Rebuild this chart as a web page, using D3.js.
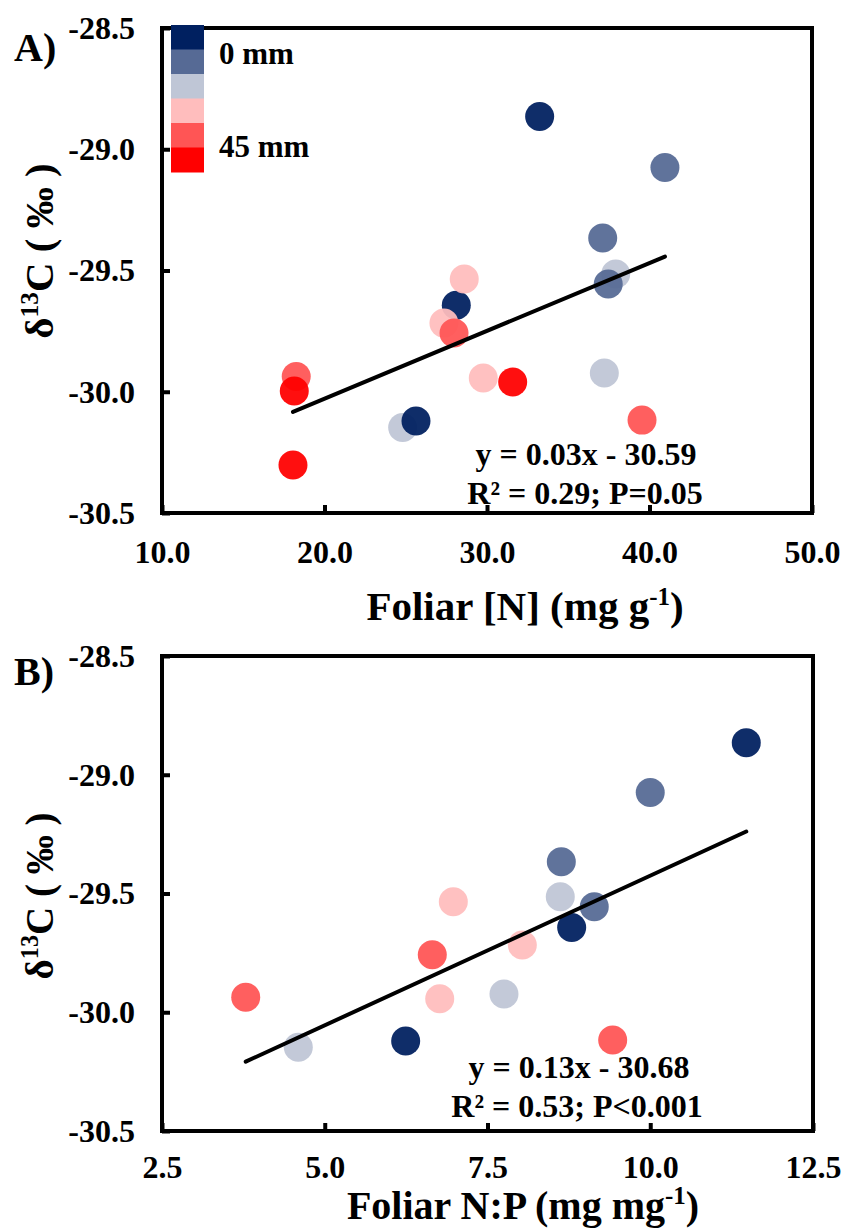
<!DOCTYPE html>
<html>
<head>
<meta charset="utf-8">
<script src="https://cdn.jsdelivr.net/npm/d3@7/dist/d3.min.js"></script>
<style>
  html, body { margin: 0; padding: 0; background: #fff; }
  svg { display: block; font-family: "Liberation Serif", "Times New Roman", serif; font-weight: bold; }
</style>
</head>
<body>
<svg id="chart" width="848" height="1231"></svg>
<script>
// ---------------- DATA ----------------
const legendLabels = ["0 mm", "", "", "", "", "45 mm"];
const groupColors = ["#002060", "#566A95", "#BFC6D6", "#FFBDBD", "#FF5555", "#FF0000"];
// group index of each sample (0 = 0 mm ... 5 = 45 mm)
const sampleGroup = [0, 1, 1, 2, 1, 3, 0, 3, 4, 2, 3, 5, 4, 0, 2, 4, 5, 5];
const d13C = [-28.865, -29.075, -29.366, -29.514, -29.556, -29.535, -29.643, -29.717, -29.758,
              -29.923, -29.943, -29.960, -30.117, -30.121, -30.147, -29.937, -29.997, -30.302];
const foliarN = [33.24, 40.95, 37.12, 37.92, 37.46, 28.60, 28.11, 27.35, 27.97,
                 37.22, 29.77, 31.58, 39.54, 25.63, 24.81, 18.26, 18.14, 18.06];
const foliarNP = [11.475, 10.00, 8.634, 8.618, 9.14, 6.975, 8.793, 8.035, 6.652,
                  7.753, 6.766, null, 9.423, 6.243, 4.594, 3.786, null, null];
// draw order of groups (later on top)
const drawOrder = [2, 1, 0, 3, 4, 5];

const yTicks = [-28.5, -29.0, -29.5, -30.0, -30.5];
const xTicksA = [10, 20, 30, 40, 50];
const xTicksB = [2.5, 5.0, 7.5, 10.0, 12.5];

const fitA = [0.028, -30.589];   // slope, intercept
const fitB = [0.126, -30.685];
const eqA = ["y = 0.03x - 30.59", "R² = 0.29; P=0.05"];
const eqB = ["y = 0.13x - 30.68", "R² = 0.53; P<0.001"];

// ---------------- DRAW ----------------
const svg = d3.select("#chart");
const fmt = d => d.toFixed(1);

function panel(opts) {
  const { xVals, fit, eq, xTicks, xDomain, xRange, yRange, label, labelY, xTitle, xTitleSup, xTitlePos, xTitleSize, xPad, yTitlePos, yTitleSize, eqPos, legend } = opts;
  const x = d3.scaleLinear().domain(xDomain).range(xRange);
  const y = d3.scaleLinear().domain([-30.5, -28.5]).range(yRange);
  const g = svg.append("g");

  const ya = g.append("g").attr("transform", `translate(${xRange[0]},0)`)
    .call(d3.axisLeft(y).tickValues(yTicks).tickFormat(fmt).tickSizeInner(-8).tickSizeOuter(0).tickPadding(27));
  const xa = g.append("g").attr("transform", `translate(0,${yRange[0]})`)
    .call(d3.axisBottom(x).tickValues(xTicks).tickFormat(fmt).tickSizeInner(-8).tickSizeOuter(0).tickPadding(xPad));
  [ya, xa].forEach(a => {
    a.attr("font-family", null).attr("font-size", null);
    a.select(".domain").remove();
    a.selectAll(".tick line").attr("stroke", "#000").attr("stroke-width", 4);
    a.selectAll(".tick text").attr("fill", "#000").style("font-size", "32px")
      .style("font-family", "'Liberation Serif', serif").style("font-weight", "bold");
  });

  // frame
  g.append("rect")
    .attr("x", xRange[0]).attr("y", yRange[1])
    .attr("width", xRange[1] - xRange[0]).attr("height", yRange[0] - yRange[1])
    .attr("fill", "none").attr("stroke", "#000").attr("stroke-width", 4);

  // points
  const pts = d13C.map((v, i) => ({ x: xVals[i], y: v, g: sampleGroup[i] }))
    .filter(p => p.x != null)
    .sort((a, b) => drawOrder.indexOf(a.g) - drawOrder.indexOf(b.g));
  g.append("g").selectAll("circle").data(pts).join("circle")
    .attr("cx", d => x(d.x)).attr("cy", d => y(d.y)).attr("r", 14.5)
    .attr("fill", d => groupColors[d.g]).attr("fill-opacity", 0.94);

  // regression line
  const ext = d3.extent(pts, p => p.x);
  g.append("line")
    .attr("x1", x(ext[0])).attr("y1", y(fit[0] * ext[0] + fit[1]))
    .attr("x2", x(ext[1])).attr("y2", y(fit[0] * ext[1] + fit[1]))
    .attr("stroke", "#000").attr("stroke-width", 4).attr("stroke-linecap", "round");

  // equation text
  g.append("text").attr("x", eqPos[0]).attr("y", eqPos[1]).attr("text-anchor", "middle")
    .style("font-size", "32px").text(eq[0]);
  g.append("text").attr("x", eqPos[2]).attr("y", eqPos[3]).attr("text-anchor", "middle")
    .style("font-size", "32px").text(eq[1]);

  // panel label
  g.append("text").attr("x", 14).attr("y", labelY).style("font-size", "40px").text(label);

  // x title
  const xt = g.append("text").attr("x", xTitlePos[0]).attr("y", xTitlePos[1])
    .attr("text-anchor", "middle").style("font-size", xTitleSize + "px");
  xt.append("tspan").text(xTitle);
  xt.append("tspan").attr("dy", -15).style("font-size", "25px").text(xTitleSup);
  xt.append("tspan").attr("dy", 15).text(")");

  // y title
  const yt = g.append("text")
    .attr("transform", `translate(${yTitlePos[0]},${yTitlePos[1]}) rotate(-90)`)
    .attr("text-anchor", "middle").style("font-size", yTitleSize + "px");
  yt.append("tspan").text("δ");
  yt.append("tspan").attr("dy", -15).style("font-size", (yTitleSize * 0.62) + "px").text("13");
  yt.append("tspan").attr("dy", 15).text("C ( ‰ )");

  // legend
  if (legend) {
    const lx = 171, lw = 33;
    const ly = d3.scaleBand().domain(d3.range(groupColors.length)).range([25, 172]).padding(0);
    g.append("g").selectAll("rect").data(groupColors).join("rect")
      .attr("x", lx).attr("y", (d, i) => ly(i)).attr("width", lw).attr("height", ly.bandwidth() + 0.5)
      .attr("fill", d => d);
    const labelBaselines = [64, 0, 0, 0, 0, 157];
    legendLabels.forEach((t, i) => {
      if (!t) return;
      g.append("text").attr("x", 219).attr("y", labelBaselines[i]).style("font-size", "31px").text(t);
    });
  }
}

panel({
  xVals: foliarN, fit: fitA, eq: eqA, xTicks: xTicksA, xDomain: [10, 50],
  xRange: [162, 812], yRange: [513, 28], label: "A)", labelY: 61,
  xTitle: "Foliar [N] (mg g", xTitleSup: "-1", xTitlePos: [525, 620], xTitleSize: 41, xPad: 27,
  yTitlePos: [53, 251], yTitleSize: 41,
  eqPos: [586, 465, 585, 504], legend: true
});
panel({
  xVals: foliarNP, fit: fitB, eq: eqB, xTicks: xTicksB, xDomain: [2.5, 12.5],
  xRange: [162, 813], yRange: [1131, 656], label: "B)", labelY: 685,
  xTitle: "Foliar N:P (mg mg", xTitleSup: "-1", xTitlePos: [523, 1219], xTitleSize: 40, xPad: 24,
  yTitlePos: [53, 896], yTitleSize: 39,
  eqPos: [579, 1078, 577, 1117], legend: false
});
</script>
</body>
</html>
